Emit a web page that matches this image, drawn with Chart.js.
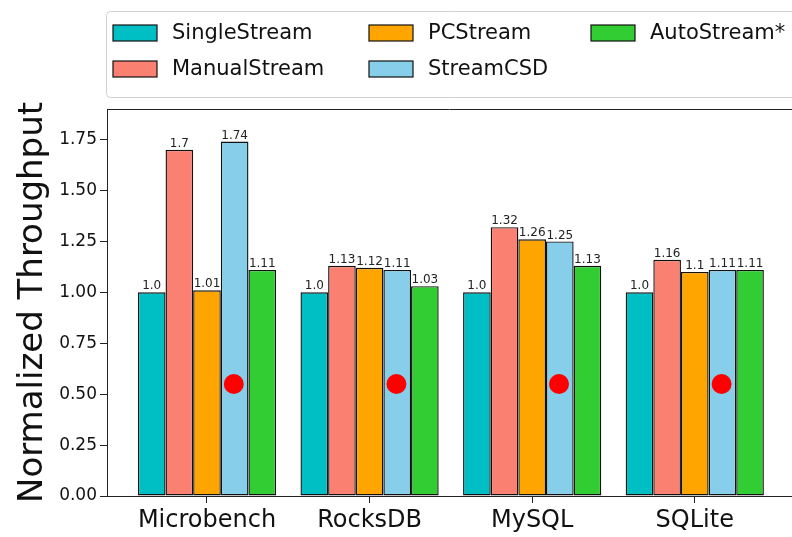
<!DOCTYPE html>
<html>
<head>
<meta charset="utf-8">
<script src="https://cdn.jsdelivr.net/npm/chart.js@4"></script>
<style>
  body { margin: 0; background: #fff; overflow: hidden; }
</style>
</head>
<body>
<canvas id="throughput-chart" width="792" height="537"></canvas>
<script>
const categories = ['Microbench', 'RocksDB', 'MySQL', 'SQLite'];
const seriesNames = ['SingleStream', 'ManualStream', 'PCStream', 'StreamCSD', 'AutoStream*'];
const singleStream = [1.0, 1.0, 1.0, 1.0];
const manualStream = [1.7, 1.13, 1.32, 1.16];
const pcStream = [1.01, 1.12, 1.26, 1.1];
const streamCSD = [1.74, 1.11, 1.25, 1.11];
const autoStream = [1.11, 1.03, 1.13, 1.11];
const markerValues = [0.55, 0.55, 0.55, 0.55];
const yTicks = [0, 0.25, 0.5, 0.75, 1.0, 1.25, 1.5, 1.75];

const seriesValues = [singleStream, manualStream, pcStream, streamCSD, autoStream];
const seriesColors = ['#00BFC4', '#FA8072', '#FFA500', '#87CEEB', '#32CD32'];
const FONT = "'DejaVu Sans', sans-serif";

function toPoints(values) {
    return values.map((v, i) => ({ x: i, y: v }));
}

const datasets = seriesNames.map((name, k) => ({
    type: 'bar',
    label: name,
    data: toPoints(seriesValues[k]),
    backgroundColor: seriesColors[k],
    borderColor: '#111',
    borderWidth: 1.4,
    borderSkipped: false,
    categoryPercentage: 0.85,
    barPercentage: 1.0
}));

// red markers sit on the StreamCSD bar of each group
datasets.push({
    type: 'scatter',
    label: 'marker',
    data: markerValues.map((v, i) => ({ x: i + 0.165, y: v })),
    backgroundColor: '#FF0000',
    borderWidth: 0,
    pointRadius: 10,
    pointHoverRadius: 10,
    order: -1
});

const valueLabels = {
    id: 'valueLabels',
    afterDatasetsDraw(chart) {
        const c = chart.ctx;
        c.save();
        c.font = '12px ' + FONT;
        c.fillStyle = '#222';
        c.textAlign = 'center';
        c.textBaseline = 'bottom';
        chart.data.datasets.forEach((ds, k) => {
            if (ds.type !== 'bar') return;
            chart.getDatasetMeta(k).data.forEach((bar, i) => {
                const v = ds.data[i].y;
                const txt = Number.isInteger(v) ? v.toFixed(1) : String(v);
                c.fillText(txt, bar.x, bar.y);
            });
        });
        c.restore();
    }
};

const frameAndLegend = {
    id: 'frameAndLegend',
    afterDraw(chart) {
        const c = chart.ctx;
        const area = chart.chartArea;
        c.save();
        // top spine
        c.strokeStyle = '#222';
        c.lineWidth = 1;
        c.beginPath();
        c.moveTo(area.left, area.top + 0.5);
        c.lineTo(area.right, area.top + 0.5);
        c.stroke();

        // legend box (matplotlib style, ncol=3, column-major)
        c.fillStyle = 'rgba(255,255,255,0.9)';
        c.strokeStyle = '#d0d0d0';
        c.beginPath();
        c.roundRect(106.5, 11.5, 720, 86, 4);
        c.fill();
        c.stroke();

        const colX = [113, 369, 591];
        const rowY = [33, 69];
        c.font = '21px ' + FONT;
        c.textBaseline = 'middle';
        c.textAlign = 'left';
        seriesNames.forEach((name, k) => {
            const x = colX[Math.floor(k / 2)];
            const y = rowY[k % 2];
            c.fillStyle = seriesColors[k];
            c.fillRect(x, y - 8, 44, 16);
            c.strokeStyle = '#111';
            c.lineWidth = 1.2;
            c.strokeRect(x, y - 8, 44, 16);
            c.fillStyle = '#111';
            c.fillText(name, x + 59, y + 1);
        });
        c.restore();
    }
};

new Chart(document.getElementById('throughput-chart'), {
    type: 'bar',
    data: { datasets: datasets },
    options: {
        responsive: false,
        devicePixelRatio: 1,
        animation: false,
        layout: { autoPadding: false, padding: { top: 109, left: 0, right: 0, bottom: 0 } },
        plugins: {
            legend: { display: false },
            tooltip: { enabled: false }
        },
        scales: {
            x: {
                type: 'linear',
                min: -0.615,
                max: 3.598,
                offset: false,
                grid: { display: true, offset: false, drawOnChartArea: false, drawTicks: true, tickLength: 7, color: '#222' },
                border: { display: true, color: '#222', width: 1 },
                afterBuildTicks: (scale) => { scale.ticks = categories.map((_, i) => ({ value: i })); },
                afterFit: (scale) => { scale.height = 41; },
                ticks: {
                    callback: (v) => categories[v],
                    font: { family: FONT, size: 24 },
                    color: '#111',
                    padding: 3,
                    maxRotation: 0,
                    autoSkip: false
                }
            },
            y: {
                min: 0,
                max: 1.9,
                grid: { display: true, drawOnChartArea: false, drawTicks: true, tickLength: 7, color: '#222' },
                border: { display: true, color: '#222', width: 1 },
                afterBuildTicks: (scale) => { scale.ticks = yTicks.map(v => ({ value: v })); },
                afterFit: (scale) => { scale.width = 107; },
                ticks: {
                    callback: (v) => v.toFixed(2),
                    font: { family: FONT, size: 17 },
                    color: '#111',
                    padding: 3
                },
                title: {
                    display: true,
                    text: 'Normalized Throughput',
                    font: { family: FONT, size: 34 },
                    color: '#111',
                    padding: { top: 13, bottom: 0 }
                }
            }
        }
    },
    plugins: [valueLabels, frameAndLegend]
});
</script>
</body>
</html>
